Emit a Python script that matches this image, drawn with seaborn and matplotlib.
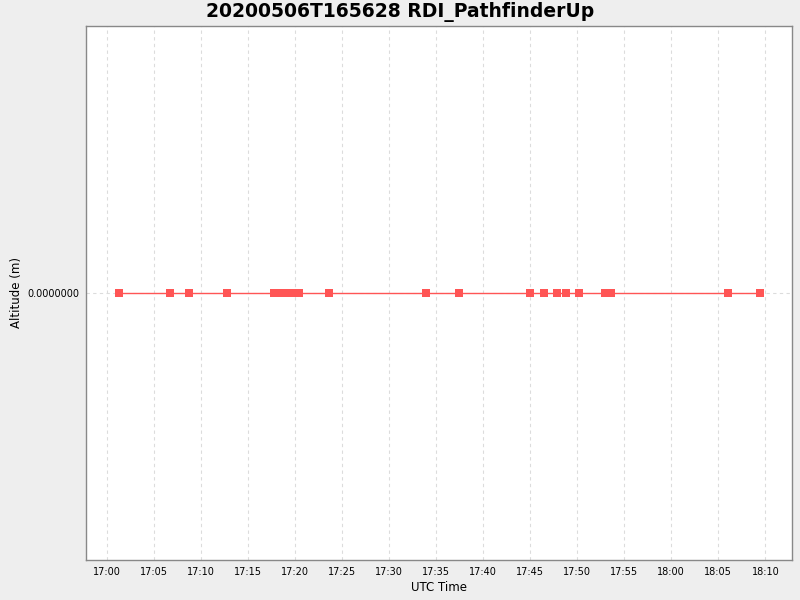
import pandas as pd
import matplotlib
matplotlib.use("Agg")
import matplotlib.pyplot as plt
import matplotlib.dates as mdates
import seaborn as sns

# sample times (UTC) and altitude values
times = ["17:01:17", "17:06:40", "17:08:42", "17:12:48", "17:17:42",
         "17:18:36", "17:19:06", "17:19:36", "17:20:06", "17:20:24",
         "17:23:36", "17:33:54", "17:37:27", "17:45:00", "17:46:30",
         "17:47:48", "17:48:48", "17:50:12", "17:52:54", "17:53:36",
         "18:06:00", "18:09:24"]
altitude = [0.0] * len(times)

tick_times = ["17:00", "17:05", "17:10", "17:15", "17:20", "17:25", "17:30",
              "17:35", "17:40", "17:45", "17:50", "17:55", "18:00", "18:05", "18:10"]

df = pd.DataFrame({
    "time": pd.to_datetime(["2020-05-06 " + t for t in times]),
    "alt": altitude,
})

sns.set_style("white")
plt.rcParams["font.family"] = ["DejaVu Sans"]
plt.rcParams["text.color"] = "black"
plt.rcParams["axes.labelcolor"] = "black"

fig = plt.figure(figsize=(8, 6), dpi=100, facecolor="#eeeeee")
ax = fig.add_axes([0.108, 0.067, 0.882, 0.89])
ax.set_facecolor("white")

sns.lineplot(data=df, x="time", y="alt", ax=ax, color="#ff5555", lw=1.0,
             marker="s", markersize=5.5, markeredgewidth=0, zorder=3)

ticks = pd.to_datetime(["2020-05-06 " + t for t in tick_times])
ax.set_xticks(ticks)
ax.xaxis.set_major_formatter(mdates.DateFormatter("%H:%M"))
ax.set_xlim(pd.Timestamp("2020-05-06 16:57:48"), pd.Timestamp("2020-05-06 18:12:50"))
ax.set_ylim(-1, 1)
ax.set_yticks([0.0])
ax.set_yticklabels(["0.0000000"])

ax.grid(True, color="#dcdcdc", linestyle=(0, (3, 3)), linewidth=0.8)
for s in ax.spines.values():
    s.set_color("#888888")
    s.set_linewidth(1.0)
ax.tick_params(axis="both", labelsize=7, colors="black", length=2, width=0.8,
               color="#888888", direction="out", pad=3)

ax.set_xlabel("UTC Time", fontsize=8.5, labelpad=3)
ax.set_ylabel("Altitude (m)", fontsize=8.5, labelpad=3)
fig.suptitle("20200506T165628 RDI_PathfinderUp", fontsize=13.5, fontweight="bold",
             color="black", y=0.997)

fig.savefig("out.png", dpi=100, facecolor=fig.get_facecolor())
